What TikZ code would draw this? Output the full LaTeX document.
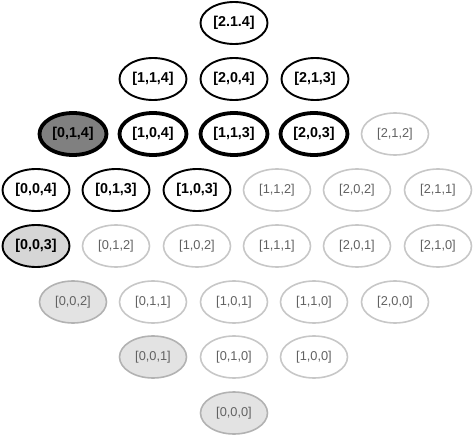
\documentclass[tikz,border=0pt]{standalone}
\usepackage{fontspec}
\setmainfont{Liberation Sans}
\usetikzlibrary{shapes.geometric}
\begin{document}
\begin{tikzpicture}[x=1pt,y=-1pt,
  st/.style={ellipse,minimum width=67pt,minimum height=42pt,inner sep=0pt},
  bk/.style={st,draw=black,line width=1.9pt,fill=white,font=\fontsize{14.3}{14.3}\selectfont\bfseries},
  bkthick/.style={bk,line width=3.8pt},
  cur/.style={bkthick,fill=black!50},
  bkgray/.style={bk,fill=black!16},
  lt/.style={st,draw=black!22,line width=1.6pt,fill=white,text=black!62,font=\fontsize{12.8}{12.8}\selectfont},
  ltgray/.style={lt,draw=black!30,fill=black!11}]
\useasboundingbox (0,0) rectangle (474,436);
% row 1
\node[bk] (n214) at (234,23) {[2.1.4]};
% row 2
\node[bk] (n114) at (153,79) {[1,1,4]};
\node[bk] (n204) at (234,79) {[2,0,4]};
\node[bk] (n213) at (315,79) {[2,1,3]};
% row 3
\node[cur] (n014) at (73,134) {[0,1,4]};
\node[bkthick] (n104) at (153,134) {[1,0,4]};
\node[bkthick] (n113) at (234,134) {[1,1,3]};
\node[bkthick] (n203) at (314,134) {[2,0,3]};
\node[lt] (n212) at (395,134) {[2,1,2]};
% row 4
\node[bk] (n004) at (36,190) {[0,0,4]};
\node[bk] (n013) at (116,190) {[0,1,3]};
\node[bk] (n103) at (197,190) {[1,0,3]};
\node[lt] (n112) at (277,190) {[1,1,2]};
\node[lt] (n202) at (357,190) {[2,0,2]};
\node[lt] (n211) at (438,190) {[2,1,1]};
% row 5
\node[bkgray] (n003) at (36,246) {[0,0,3]};
\node[lt] (n012) at (116,246) {[0,1,2]};
\node[lt] (n102) at (197,246) {[1,0,2]};
\node[lt] (n111) at (277,246) {[1,1,1]};
\node[lt] (n201) at (357,246) {[2,0,1]};
\node[lt] (n210) at (438,246) {[2,1,0]};
% row 6
\node[ltgray] (n002) at (73,302) {[0,0,2]};
\node[lt] (n011) at (153,302) {[0,1,1]};
\node[lt] (n101) at (234,302) {[1,0,1]};
\node[lt] (n110) at (314,302) {[1,1,0]};
\node[lt] (n200) at (395,302) {[2,0,0]};
% row 7
\node[ltgray] (n001) at (153,357) {[0,0,1]};
\node[lt] (n010) at (234,357) {[0,1,0]};
\node[lt] (n100) at (314,357) {[1,0,0]};
% row 8
\node[ltgray] (n000) at (234,413) {[0,0,0]};
\end{tikzpicture}
\end{document}
